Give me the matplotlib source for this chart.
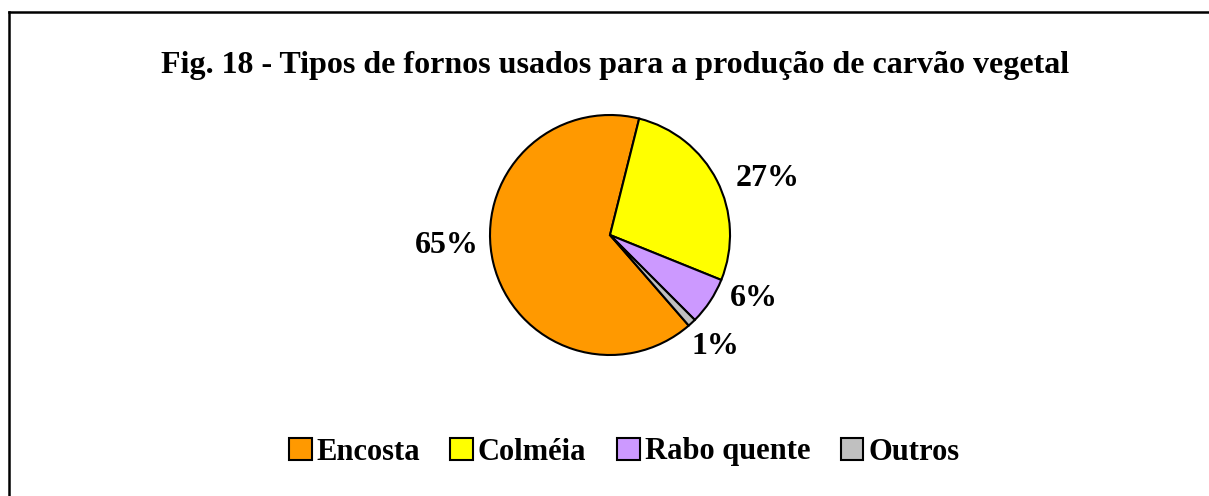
import matplotlib.pyplot as plt
from matplotlib.patches import Patch
from matplotlib.lines import Line2D

# data
labels = ['Encosta', 'Colméia', 'Rabo quente', 'Outros']
values = [65.3, 27.2, 6.4, 1.1]
colors = ['#FF9900', '#FFFF00', '#CC99FF', '#C0C0C0']
title = 'Fig. 18 - Tipos de fornos usados para a produção de carvão vegetal'
# label spots (pie units), as Excel placed them
label_pos = [(-1.36, -0.09), (1.31, 0.475), (1.2, -0.53), (0.88, -0.93)]

W, H = 1209, 496
fig = plt.figure(figsize=(W / 100, H / 100), dpi=100)
plt.rcParams['font.family'] = ['Liberation Serif', 'DejaVu Serif']

# frame border (only left and top visible in crop)
fig.add_artist(Line2D([9 / W, 9 / W], [0, 1 - 12 / H], transform=fig.transFigure, color='black', lw=1.8))
fig.add_artist(Line2D([9 / W, 1], [1 - 12 / H, 1 - 12 / H], transform=fig.transFigure, color='black', lw=1.8))

fig.text(615 / W, 1 - 65 / H, title, ha='center', va='center', fontsize=23, fontweight='bold')

cx, cy, r = 610, 235, 120
ax = fig.add_axes([(cx - r) / W, (H - cy - r) / H, 2 * r / W, 2 * r / H])
wedges, texts, autotexts = ax.pie(values, colors=colors, startangle=-49, counterclock=False,
                                  autopct='%1.0f%%', pctdistance=1.33,
                                  wedgeprops=dict(edgecolor='black', linewidth=1.5))
for t, p in zip(autotexts, label_pos):
    t.set_fontsize(23)
    t.set_fontweight('bold')
    t.set_position(p)
ax.set_xlim(-1, 1)
ax.set_ylim(-1, 1)

handles = [Patch(facecolor=c, edgecolor='black', linewidth=1.5) for c in colors]
fig.legend(handles, labels, loc='center', bbox_to_anchor=(624 / W, 1 - 452 / H), ncol=4,
           frameon=False, prop=dict(size=22, weight='bold'), handlelength=0.75, handleheight=0.75,
           handletextpad=0.15, columnspacing=1.0)

fig.savefig('out.png', dpi=100)
